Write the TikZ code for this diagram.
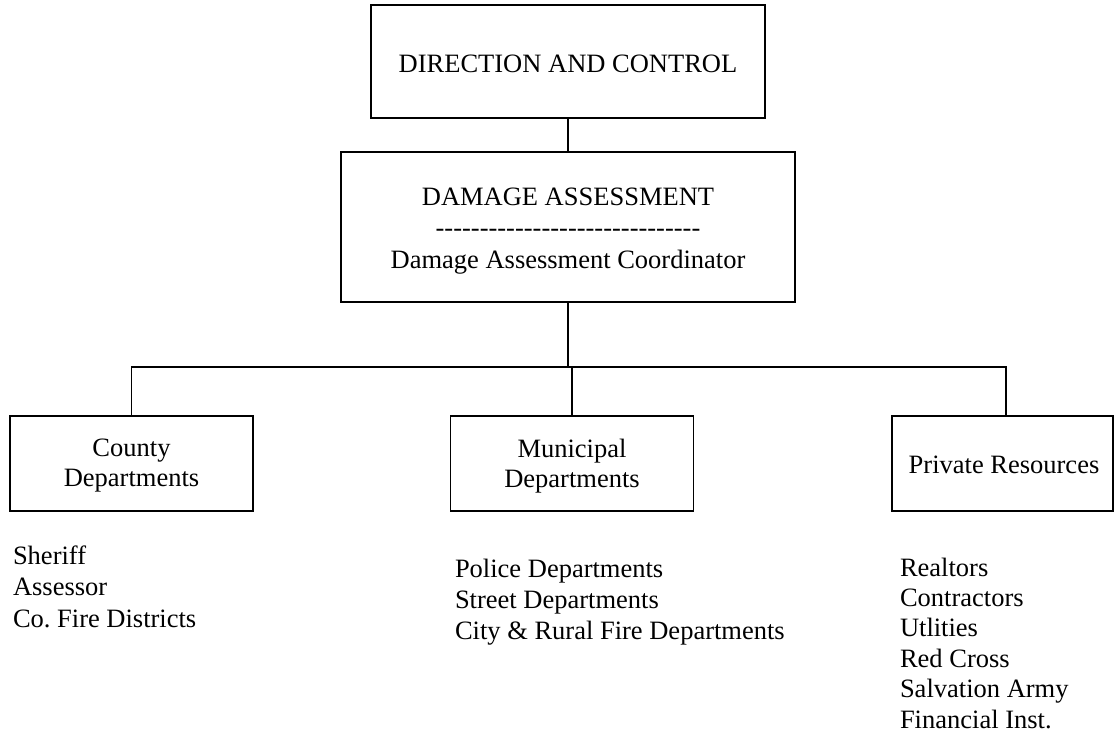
\documentclass[tikz,border=0pt]{standalone}
\usepackage{fontspec}
\setmainfont{Liberation Serif}
\frenchspacing
\begin{document}
\begin{tikzpicture}[x=1pt,y=-1pt,
  every node/.style={font=\fontsize{26.5}{30}\selectfont, inner sep=0pt, outer sep=0pt},
  orgbox/.style={draw, line width=1.6pt, align=center},
  unitbox/.style={orgbox, minimum width=243, minimum height=95},
  item/.style={anchor=base west},
  link/.style={line width=1.4pt}]
\useasboundingbox (0,0) rectangle (1115,736);

% command boxes
\node[orgbox, minimum width=394, minimum height=113] (dc) at (568,61.5) {};
\node (dctext) at (568,63.5) {DIRECTION AND CONTROL};
\node[orgbox, minimum width=454, minimum height=150] (da) at (568,227) {};
\node[align=center] (datext) at (568,230.6)
  {DAMAGE ASSESSMENT\\[1.5pt]\foreach \k in {1,...,30}{\hbox{-}}\\[1.5pt]Damage Assessment Coordinator};

% departments
\node[unitbox] (cty) at (131.5,463.5) {};
\node[align=center] (ctytext) at (131.5,466) {County\\Departments};
\node[unitbox] (mun) at (572,463.5) {};
\node[align=center] (muntext) at (572,466) {Municipal\\Departments};
\node[unitbox, minimum width=221] (prv) at (1002.5,463.5) {};
\node (prvtext) at (1004,464.5) {Private Resources};

% connectors
\coordinate (bus) at (569,367);
\coordinate (prvtop) at ([xshift=3.5pt]prv.north);
\draw[link] (dc.south) -- (da.north);
\draw[link] (da.south) -- (da.south |- bus);
\draw[link] (cty.north) |- (bus) -| (prvtop);
\draw[link] (mun.north) -- (mun.north |- bus);

% member lists
\foreach \t [count=\i] in {Sheriff, Assessor, Co. Fire Districts}
  \node[item] (cl\i) at (13,{564+31.5*(\i-1)}) {\t};
\foreach \t [count=\i] in {Police Departments, Street Departments, City \& Rural Fire Departments}
  \node[item] (ml\i) at (455,{577+31*(\i-1)}) {\t};
\foreach \t [count=\i] in {Realtors, Contractors, Utlities, Red Cross, Salvation Army, Financial Inst.}
  \node[item] (pl\i) at (900,{576+30.4*(\i-1)}) {\t};
\end{tikzpicture}
\end{document}
